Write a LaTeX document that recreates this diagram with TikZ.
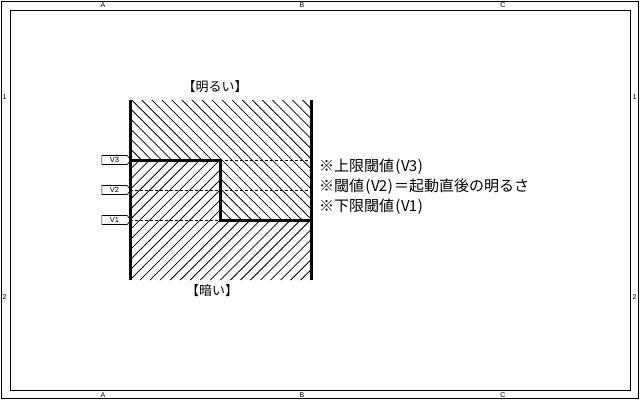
\documentclass[tikz,border=0pt]{standalone}
\usepackage{fontspec}
\newfontfamily\jp{Noto Sans CJK JP}
\setmainfont{Liberation Sans}
\usetikzlibrary{patterns.meta,shapes.symbols}
\newcommand\hw[1]{\makebox[7.5pt]{#1}}
\begin{document}
\begin{tikzpicture}[x=1pt,y=-1pt,
  frame/.style={draw,line width=1pt},
  thick line/.style={line width=3pt},
  guide/.style={line width=0.5pt,dash pattern=on 3pt off 2pt},
  ruler/.style={font=\fontsize{7}{8}\selectfont,inner sep=0pt},
  jptext/.style={font=\jp\fontsize{15}{17}\selectfont,inner sep=0pt,anchor=west},
  jplabel/.style={font=\jp\fontsize{13}{15}\selectfont,inner sep=0pt},
  vtag/.style={signal,signal to=east,draw,line width=0.6pt,minimum width=29pt,minimum height=9pt,inner sep=0pt,font=\fontsize{7.5}{8}\selectfont,signal pointer angle=100}]
\useasboundingbox (0,0) rectangle (640,400);
\draw[frame] (1,1) rectangle (638.5,398.5);
\draw[frame] (10,10) rectangle (630,390);
% ruler labels
\foreach \l/\x in {A/103,B/302,C/503}{
  \node[ruler] (top\l) at (\x,5) {\l};
  \node[ruler] (bot\l) at (\x,395) {\l};
}
\foreach \n/\y in {1/97,2/297}{
  \node[ruler] (left\n) at (4.5,\y) {\n};
  \node[ruler] (right\n) at (634.5,\y) {\n};
}
% hatched regions
\fill[pattern={Lines[angle=-45,distance=7.1pt,line width=0.8pt]}]
  (130,100) -- (311,100) -- (311,220) -- (220,220) -- (220,160) -- (130,160) -- cycle;
\fill[pattern={Lines[angle=45,distance=7.1pt,line width=0.8pt]}]
  (130,160) -- (220,160) -- (220,220) -- (311,220) -- (311,280) -- (130,280) -- cycle;
% coordinates
\coordinate (L3) at (130,160);
\coordinate (L2) at (130,190);
\coordinate (L1) at (130,220);
\coordinate (M3) at (220,160);
\coordinate (M1) at (220,220);
\coordinate (R3) at (311,160);
\coordinate (R2) at (311,190);
\coordinate (R1) at (311,220);
% dashed threshold lines
\draw[guide] (M3) -- (R3);
\draw[guide] (L2) -- (R2);
\draw[guide] (L1) -- (M1);
% thick lines
\draw[thick line] (130,100) -- (130,280);
\draw[thick line] (311,100) -- (311,280);
\draw[thick line] (L3) -- (M3) -- (M1) -- (R1);
% tags
\node[vtag] (v3) at (114.5,160) {V3};
\node[vtag] (v2) at (114.5,190) {V2};
\node[vtag] (v1) at (114.5,220) {V1};
% labels
\node[jplabel] (bright) at (215,87) {【明るい】};
\node[jplabel] (dark) at (212,291) {【暗い】};
\node[jptext] (t3) at (319,167) {※上限閾値\hw{(}\hw{V}\hw{3}\hw{)}};
\node[jptext] (t2) at (319,187) {※閾値\hw{(}\hw{V}\hw{2}\hw{)}＝起動直後の明るさ};
\node[jptext] (t1) at (319,207) {※下限閾値\hw{(}\hw{V}\hw{1}\hw{)}};
\end{tikzpicture}
\end{document}
